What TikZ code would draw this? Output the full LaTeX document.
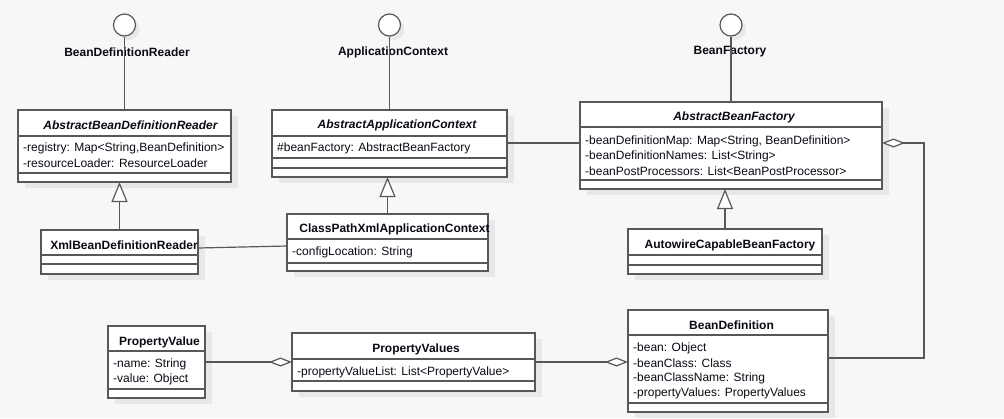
\documentclass[tikz,border=0pt]{standalone}
\usepackage{fontspec}
\setmainfont{Liberation Sans}
\usetikzlibrary{arrows.meta}
\definecolor{bg}{RGB}{247,247,247}
\definecolor{shd}{RGB}{232,232,232}
\definecolor{ln}{RGB}{88,88,88}
\definecolor{txt}{RGB}{10,10,20}
\newcommand\umlfont{\fontsize{12}{14}\selectfont}
\tikzset{
  classbox/.style={rectangle, draw=ln, fill=white, line width=1.3pt, inner sep=0pt, outer sep=0pt},
  divider/.style={draw=ln, line width=1.3pt},
  conn/.style={draw=ln, line width=1.2pt, line join=miter},
  gen/.style={conn, -{Triangle[fill=white, length=20pt, width=16pt]}},
  agg/.style={conn, -{Diamond[fill=white, length=23pt, width=9pt]}},
  iface/.style={circle, draw=ln, fill=white, line width=1.2pt, minimum size=22pt, inner sep=0pt},
  ishadow/.style={circle, fill=shd, minimum size=22pt, inner sep=0pt},
  ttl/.style={inner sep=0pt, text=txt, font={\umlfont\bfseries}},
  attl/.style={inner sep=0pt, text=txt, font={\umlfont\bfseries\itshape}},
  lbl/.style={inner sep=0pt, text=txt, font={\umlfont\bfseries}},
  attr/.style={inner sep=0pt, anchor=west, text=txt, font=\umlfont},
}
\newcommand\umlclass[6]{%
  \fill[shd] (#2+7,#3+6) rectangle (#4+7,#5+6);
  \node[classbox, anchor=north west, minimum width={(#4-#2)*1pt}, minimum height={(#5-#3)*1pt}] (#1) at (#2,#3) {};
  \foreach \yy in {#6} {\draw[divider] (#2,\yy) -- (#4,\yy);}
}
\begin{document}
\begin{tikzpicture}[x=1pt,y=-1pt]
\useasboundingbox (0,0) rectangle (1004,418);
\fill[bg] (0,0) rectangle (1004,418);

% interface circles
\node[ishadow] (s1) at (128.5,29) {};
\node[ishadow] (s2) at (393.5,29) {};
\node[ishadow] (s3) at (735,29) {};
\node[iface] (i1) at (124.5,25) {};
\node[iface] (i2) at (389.5,25) {};
\node[iface] (i3) at (731,25) {};

% classes
\umlclass{abdr}{18}{110}{231}{182}{136,173}
\umlclass{aac}{272}{110}{507}{177}{136,158,168}
\umlclass{abf}{580}{102}{882}{189}{127,180}
\umlclass{xbdr}{41}{230}{198}{274}{255,264}
\umlclass{cpx}{287}{214}{488}{271}{239,263}
\umlclass{acbf}{628}{229}{822}{274}{255,265}
\umlclass{pv}{108}{326}{205}{398}{351,389}
\umlclass{pvs}{292}{333}{535}{391}{359,381}
\umlclass{bd}{628}{310}{828}{412}{335,403}

% interface labels
\node[lbl] (l1) at (127,52) {BeanDefinitionReader};
\node[lbl] (l2) at (393,52) {ApplicationContext};
\node[lbl] (l3) at (730,52) {BeanFactory};

% lollipop lines
\draw[conn] (i1) -- (abdr);
\draw[conn] (i2) -- (aac);
\draw[conn] (i3) -- (abf);

% generalizations
\draw[gen] (xbdr.north) -- (xbdr.north |- abdr.south);
\draw[gen] (cpx.north) -- (cpx.north |- aac.south);
\draw[gen] (acbf.north) -- (acbf.north |- abf.south);

% associations
\draw[conn] (xbdr.east |- 0,248) -- (cpx.west |- 0,246);
\draw[conn] (aac.east |- 0,143) -- (abf.west |- 0,143);

% aggregations
\draw[agg] (pv.east) -- (pvs.west |- pv.east);
\draw[agg] (pvs.east) -- (bd.west |- pvs.east);
\coordinate (k1) at (924,358);
\coordinate (k2) at (924,143);
\draw[agg] (bd.east |- k1) -- (k1) -- (k2) -- (abf.east |- k2);

% texts
\node[attl] (abdr-n) at (130.5,125) {AbstractBeanDefinitionReader};
\node[attr] (abdr-a1) at (23,148) {-registry: Map<String,BeanDefinition>};
\node[attr] (abdr-a2) at (23,163) {-resourceLoader: ResourceLoader};

\node[attl] (aac-n) at (397,125) {AbstractApplicationContext};
\node[attr] (aac-a1) at (277,148) {\#beanFactory: AbstractBeanFactory};

\node[attl] (abf-n) at (734,117) {AbstractBeanFactory};
\node[attr] (abf-a1) at (585,141) {-beanDefinitionMap: Map<String, BeanDefinition>};
\node[attr] (abf-a2) at (585,156) {-beanDefinitionNames: List<String>};
\node[attr] (abf-a3) at (585,171) {-beanPostProcessors: List<BeanPostProcessor>};

\node[ttl] (xbdr-n) at (124,245) {XmlBeanDefinitionReader};

\node[ttl] (cpx-n) at (394.5,229) {ClassPathXmlApplicationContext};
\node[attr] (cpx-a1) at (292,252) {-configLocation: String};

\node[ttl] (acbf-n) at (730,245) {AutowireCapableBeanFactory};

\node[ttl] (pv-n) at (159.5,342) {PropertyValue};
\node[attr] (pv-a1) at (113,364) {-name: String};
\node[attr] (pv-a2) at (113,379) {-value: Object};

\node[ttl] (pvs-n) at (416,349) {PropertyValues};
\node[attr] (pvs-a1) at (297,372) {-propertyValueList: List<PropertyValue>};

\node[ttl] (bd-n) at (731.5,325) {BeanDefinition};
\node[attr] (bd-a1) at (633,348) {-bean: Object};
\node[attr] (bd-a2) at (633,363) {-beanClass: Class};
\node[attr] (bd-a3) at (633,378) {-beanClassName: String};
\node[attr] (bd-a4) at (633,393) {-propertyValues: PropertyValues};
\end{tikzpicture}
\end{document}
